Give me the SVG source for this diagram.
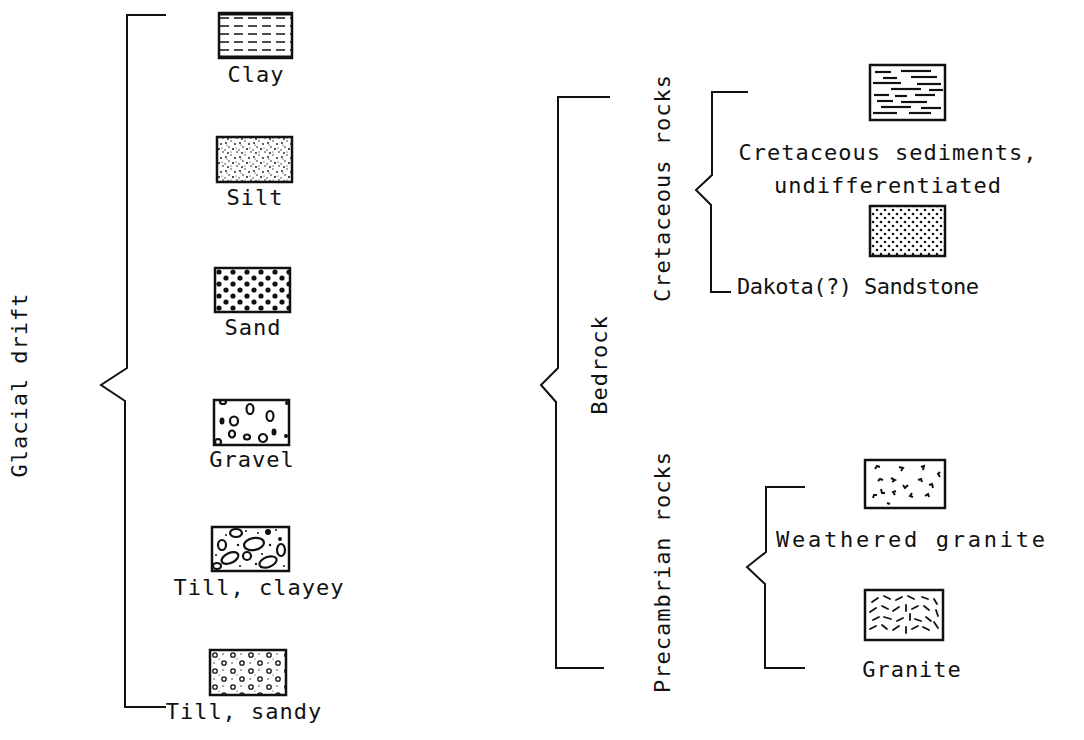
<svg xmlns="http://www.w3.org/2000/svg" width="1084" height="740" viewBox="0 0 1084 740">
<style>
.t{font-family:"DejaVu Sans Mono","Liberation Mono",monospace;font-size:22px;fill:#111;letter-spacing:1px}
.br{fill:none;stroke:#111;stroke-width:2}
.box{fill:#fff;stroke:#111;stroke-width:2.5}
.ln{stroke:#111;fill:none}
</style>
<defs>
<pattern id="pClay" width="14" height="8" patternUnits="userSpaceOnUse" x="219" y="14">
<line x1="1" y1="4" x2="10" y2="4" stroke="#111" stroke-width="1.5"/>
</pattern>
<pattern id="pSilt" width="14" height="14" patternUnits="userSpaceOnUse">
<circle cx="2" cy="3" r="0.9" fill="#111"/><circle cx="7" cy="1" r="0.7" fill="#111"/><circle cx="11" cy="4" r="0.9" fill="#111"/>
<circle cx="5" cy="7" r="0.8" fill="#111"/><circle cx="9" cy="9" r="1" fill="#111"/><circle cx="1" cy="10" r="0.7" fill="#111"/>
<circle cx="13" cy="12" r="0.8" fill="#111"/><circle cx="4" cy="13" r="0.9" fill="#111"/><circle cx="12" cy="8" r="0.6" fill="#111"/>
<circle cx="7" cy="12" r="0.6" fill="#111"/><circle cx="3" cy="5" r="0.6" fill="#111"/>
</pattern>
<pattern id="pSand" width="14" height="12" patternUnits="userSpaceOnUse" x="216" y="269">
<circle cx="3" cy="3" r="2.6" fill="#111"/><circle cx="10" cy="9" r="2.6" fill="#111"/>
</pattern>
<pattern id="pDak" width="8" height="8" patternUnits="userSpaceOnUse" x="871" y="204">
<circle cx="2" cy="2" r="1.3" fill="#111"/><circle cx="6" cy="6" r="1.3" fill="#111"/>
</pattern>
<pattern id="pTs" width="18" height="16" patternUnits="userSpaceOnUse" x="211" y="651">
<circle cx="4" cy="4" r="2.2" fill="none" stroke="#111" stroke-width="1.3"/>
<circle cx="13" cy="12" r="2.2" fill="none" stroke="#111" stroke-width="1.3"/>
<circle cx="12" cy="3" r="0.7" fill="#111"/><circle cx="3" cy="12" r="0.7" fill="#111"/><circle cx="8" cy="8" r="0.6" fill="#111"/>
</pattern>
<pattern id="pCs" width="74" height="54" patternUnits="userSpaceOnUse" x="871" y="66">
<g stroke="#111" stroke-width="2.2">
<line x1="4" y1="6" x2="20" y2="6"/><line x1="30" y1="5" x2="60" y2="5"/>
<line x1="12" y1="12" x2="26" y2="12"/><line x1="40" y1="11" x2="66" y2="11"/>
<line x1="2" y1="17" x2="30" y2="17"/><line x1="46" y1="18" x2="70" y2="18"/>
<line x1="20" y1="23" x2="50" y2="23"/><line x1="58" y1="24" x2="72" y2="24"/>
<line x1="3" y1="29" x2="18" y2="29"/><line x1="24" y1="30" x2="36" y2="30"/><line x1="44" y1="29" x2="64" y2="29"/>
<line x1="6" y1="35" x2="22" y2="35"/><line x1="30" y1="36" x2="56" y2="36"/>
<line x1="10" y1="41" x2="40" y2="41"/><line x1="50" y1="42" x2="70" y2="42"/>
<line x1="2" y1="47" x2="26" y2="47"/><line x1="38" y1="47" x2="60" y2="47"/>
</g>
</pattern>
</defs>

<g id="connectors">
<path class="br" d="M166,15 H127 V368 L101,385 L125,401 V707 H166"/>
<path class="br" d="M610,97 H558 V368 L541,385 L556,402 V668 H604"/>
<path class="br" d="M748,92 H712 V175 L696,190 L711,205 V292 H731"/>
<path class="br" d="M805,487 H766 V552 L747,567 L765,584 V668 H805"/>
</g>

<g id="labels">
<text class="t" transform="translate(27,385) rotate(-90)" text-anchor="middle">Glacial drift</text>
<text class="t" transform="translate(607,365) rotate(-90)" text-anchor="middle">Bedrock</text>
<text class="t" transform="translate(670,188) rotate(-90)" text-anchor="middle">Cretaceous rocks</text>
<text class="t" transform="translate(670,572) rotate(-90)" text-anchor="middle">Precambrian rocks</text>
</g>

<g id="clay">
<rect class="box" x="219" y="13" width="73" height="45" style="fill:url(#pClay)"/>
<line x1="219" y1="14" x2="292" y2="14" stroke="#111" stroke-width="3"/>
<line x1="219" y1="57" x2="292" y2="57" stroke="#111" stroke-width="3"/>
<text class="t" x="256" y="82" text-anchor="middle">Clay</text>
</g>

<g id="silt">
<rect class="box" x="217" y="137" width="75" height="45" style="fill:url(#pSilt)"/>
<text class="t" x="255" y="205" text-anchor="middle">Silt</text>
</g>

<g id="sand">
<rect class="box" x="215" y="268" width="75" height="44" style="fill:url(#pSand)"/>
<text class="t" x="253" y="335" text-anchor="middle">Sand</text>
</g>

<g id="gravel">
<rect class="box" x="214" y="400" width="75" height="45"/>
<g class="ln" stroke-width="2.2">
<ellipse cx="250" cy="409" rx="3.5" ry="5"/>
<ellipse cx="234" cy="421" rx="4" ry="4.5"/>
<ellipse cx="270" cy="416" rx="3.5" ry="5"/>
<ellipse cx="232" cy="434" rx="3" ry="3.5"/>
<ellipse cx="247" cy="437" rx="3" ry="2.5"/>
<ellipse cx="263" cy="438" rx="4" ry="4" transform="rotate(-20 263 438)"/>
<ellipse cx="218" cy="442" rx="3" ry="3"/>
<ellipse cx="223" cy="402" rx="3" ry="2"/>
</g>
<g fill="#111">
<ellipse cx="222" cy="421" rx="2.5" ry="3.5"/>
<ellipse cx="274" cy="432" rx="2.5" ry="3.5"/>
<circle cx="287" cy="403" r="2"/>
<circle cx="286" cy="436" r="2"/>
</g>
<text class="t" x="252" y="467" text-anchor="middle">Gravel</text>
</g>

<g id="till-clayey">
<rect class="box" x="212" y="527" width="77" height="44"/>
<g class="ln" stroke-width="2.2">
<ellipse cx="236" cy="533" rx="6" ry="4"/>
<ellipse cx="254" cy="544" rx="10" ry="6" transform="rotate(-10 254 544)"/>
<ellipse cx="222" cy="545" rx="4" ry="5"/>
<ellipse cx="230" cy="558" rx="9" ry="5" transform="rotate(-25 230 558)"/>
<ellipse cx="247" cy="556" rx="4" ry="4"/>
<ellipse cx="268" cy="562" rx="9" ry="5" transform="rotate(-20 268 562)"/>
<ellipse cx="281" cy="550" rx="4" ry="6"/>
<ellipse cx="217" cy="566" rx="4" ry="3"/>
</g>
<g fill="#111">
<circle cx="268" cy="532" r="3"/><circle cx="280" cy="539" r="2"/>
<circle cx="226" cy="535" r="1"/><circle cx="246" cy="531" r="1"/><circle cx="258" cy="533" r="1"/>
<circle cx="276" cy="530" r="1"/><circle cx="238" cy="545" r="1.2"/><circle cx="270" cy="545" r="1.2"/>
<circle cx="216" cy="555" r="1"/><circle cx="240" cy="566" r="1"/><circle cx="256" cy="564" r="1.2"/>
<circle cx="284" cy="566" r="1"/><circle cx="262" cy="554" r="1"/>
</g>
<text class="t" x="259" y="595" text-anchor="middle">Till, clayey</text>
</g>

<g id="till-sandy">
<rect class="box" x="210" y="650" width="76" height="45" style="fill:url(#pTs)"/>
<text class="t" x="244" y="719" text-anchor="middle">Till, sandy</text>
</g>

<g id="cretaceous-sediments">
<rect class="box" x="870" y="65" width="75" height="55" style="fill:url(#pCs)"/>
<text class="t" x="888" y="160" text-anchor="middle">Cretaceous sediments,</text>
<text class="t" x="888" y="193" text-anchor="middle">undifferentiated</text>
</g>

<g id="dakota">
<rect class="box" x="870" y="206" width="75" height="50" style="fill:url(#pDak)"/>
<text class="t" x="737" y="294" textLength="243" lengthAdjust="spacing">Dakota(?) Sandstone</text>
</g>

<g id="weathered-granite">
<rect class="box" x="865" y="460" width="80" height="48"/>
<g class="ln" stroke-width="2">
<path d="M875,469 l2,-3 l3,1"/><path d="M899,467 l4,1 l-2,3"/><path d="M921,467 l3,-1 l-1,4"/>
<path d="M940,472 l-2,2 l2,3"/><path d="M878,481 l2,-2 l3,1"/><path d="M891,478 l4,2 l-3,2"/>
<path d="M903,485 l2,3 l3,-3"/><path d="M918,480 l3,-1 l1,3"/><path d="M929,485 l3,-1 l1,4"/>
<path d="M881,489 l1,4 l3,0"/><path d="M896,491 l-3,1 l2,3"/><path d="M912,493 l-2,3 l3,1"/>
<path d="M925,496 l3,-2 l1,3"/><path d="M873,498 l1,-3 l3,0"/><path d="M887,503 l3,1"/>
</g>
<text class="t" x="776" y="547" textLength="270" lengthAdjust="spacing">Weathered granite</text>
</g>

<g id="granite">
<rect class="box" x="865" y="590" width="78" height="50"/>
<g stroke="#111" stroke-width="1.8" stroke-linecap="round">
<line x1="872" y1="602" x2="878" y2="598"/><line x1="884" y1="596" x2="890" y2="599"/><line x1="896" y1="600" x2="902" y2="597"/>
<line x1="908" y1="596" x2="914" y2="599"/><line x1="922" y1="597" x2="928" y2="599"/><line x1="934" y1="599" x2="937" y2="604"/>
<line x1="870" y1="612" x2="876" y2="608"/><line x1="882" y1="606" x2="888" y2="609"/><line x1="893" y1="611" x2="899" y2="607"/>
<line x1="906" y1="605" x2="906" y2="611"/><line x1="912" y1="609" x2="918" y2="606"/><line x1="924" y1="606" x2="929" y2="610"/>
<line x1="936" y1="610" x2="938" y2="616"/><line x1="873" y1="620" x2="879" y2="617"/><line x1="884" y1="617" x2="891" y2="619"/>
<line x1="897" y1="621" x2="903" y2="618"/><line x1="910" y1="614" x2="910" y2="620"/><line x1="915" y1="619" x2="921" y2="621"/>
<line x1="926" y1="617" x2="931" y2="621"/><line x1="870" y1="629" x2="876" y2="626"/><line x1="882" y1="625" x2="887" y2="629"/>
<line x1="893" y1="630" x2="899" y2="626"/><line x1="906" y1="627" x2="906" y2="633"/><line x1="912" y1="629" x2="918" y2="626"/>
<line x1="923" y1="627" x2="929" y2="630"/><line x1="934" y1="622" x2="938" y2="628"/>
</g>
<text class="t" x="912" y="677" text-anchor="middle">Granite</text>
</g>
</svg>
